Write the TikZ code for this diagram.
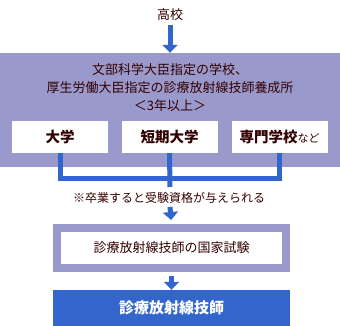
\documentclass[tikz,border=0pt]{standalone}
\usepackage{fontspec}
\setmainfont{Noto Sans CJK JP}
\usetikzlibrary{arrows.meta,positioning}
\definecolor{panelbg}{RGB}{153,153,204}
\definecolor{flow}{RGB}{51,102,204}
\definecolor{ink}{RGB}{51,0,0}

\begin{document}
\begin{tikzpicture}[x=1pt,y=-1pt,text=ink,font=\fontsize{13}{18}\selectfont]
\useasboundingbox (0,0) rectangle (340,326);
\tikzset{flowline/.style={flow,line width=5pt}}
\tikzset{flowarr/.style={flowline,-{Triangle[width=15pt,length=8pt]}}}
\tikzset{school/.style={fill=white,minimum width=96pt,minimum height=32pt,inner sep=0pt,font=\fontsize{14.5}{16}\selectfont\bfseries}}
% high school
\node (hs) at (170,15) {高校};
% training institutions
\node[fill=panelbg,minimum width=340pt,minimum height=114pt,inner sep=0pt] (panel) at (170,110) {};
\node[align=center] (inst) at (170,88) {文部科学大臣指定の学校、\\厚生労働大臣指定の診療放射線技師養成所\\＜3年以上＞};
\node[school] (uni) at (60,137) {大学};
\node[school] (junior) at (169.5,137) {短期大学};
\node[school] (voc) at (279.5,137) {専門学校{\mdseries\fontsize{11}{12}\selectfont など}};
\draw[flowarr] (hs.south) -- (panel.north);
% merge
\coordinate (join) at (170,178);
\coordinate (stub) at (170,187);
\draw[flowline] (uni.south) -- (uni.south |- join) -- (voc.south |- join) -- (voc.south);
\draw[flowline] (junior.south) -- (stub);
\node[font=\fontsize{12}{14}\selectfont] (note) at (169,198) {※卒業すると受験資格が与えられる};
% exam
\node[draw=panelbg,line width=8pt,fill=white,minimum width=229pt,minimum height=40pt,inner sep=0pt] (exam) at (171.5,248) {診療放射線技師の国家試験};
\draw[flowarr,shorten >=4pt] (170,207) -- (exam.north);
% licence
\node[fill=flow,text=white,minimum width=237pt,minimum height=36pt,inner sep=0pt,font=\fontsize{15}{16}\selectfont\bfseries] (rt) at (171.5,308) {診療放射線技師};
\draw[flowarr,shorten <=4pt] (exam.south) -- (rt.north);
\end{tikzpicture}
\end{document}
